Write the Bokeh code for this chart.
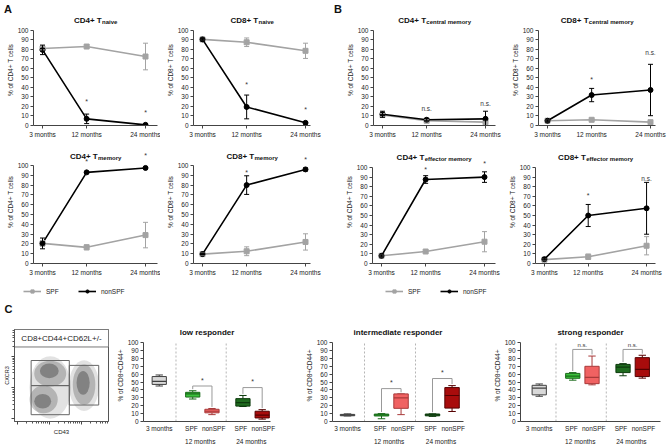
from bokeh.plotting import figure
from bokeh.layouts import column, row
from bokeh.models import (Range1d, FixedTicker, Label, Whisker, TeeHead, ColumnDataSource,
                          Legend, LegendItem, LinearAxis)
from bokeh.embed import file_html
from bokeh.resources import INLINE

FONT = "Liberation Sans"
GRAY = "#a3a3a3"
BLACK = "#000000"
AXIS = "#444444"

# ---------------- data : panels A / B ----------------
months = [3, 12, 24]
month_labels = ["3 months", "12 months", "24 months"]
pct_ticks = [0, 10, 20, 30, 40, 50, 60, 70, 80, 90, 100]
sig_months = [12, 24]
series_names = ["SPF", "nonSPF"]

cd4_naive_spf = [81, 83, 72.5]
cd4_naive_spf_err = [1.5, 2, 14]
cd4_naive_non = [79.5, 7, 0.7]
cd4_naive_non_err = [5, 5, 0.5]
cd4_naive_sig = ["*", "*"]
cd4_naive_sig_y = [25, 14]

cd8_naive_spf = [90.5, 87.5, 78.5]
cd8_naive_spf_err = [1, 4.5, 8]
cd8_naive_non = [90.5, 19.5, 2.8]
cd8_naive_non_err = [1, 12.5, 1]
cd8_naive_sig = ["*", "*"]
cd8_naive_sig_y = [43, 17]

cd4_cm_spf = [11, 5, 3.5]
cd4_cm_spf_err = [1.5, 1, 1]
cd4_cm_non = [11.8, 6, 7]
cd4_cm_non_err = [3.2, 1.5, 8]
cd4_cm_sig = ["n.s.", "n.s."]
cd4_cm_sig_y = [17.5, 23]

cd8_cm_spf = [5, 6, 3.5]
cd8_cm_spf_err = [1, 1.2, 1]
cd8_cm_non = [5, 32, 37.3]
cd8_cm_non_err = [1, 7, 27]
cd8_cm_sig = ["*", "n.s."]
cd8_cm_sig_y = [48, 76.5]

cd4_mem_spf = [20.5, 16.5, 29]
cd4_mem_spf_err = [3, 2.5, 13]
cd4_mem_non = [20.5, 93, 97.5]
cd4_mem_non_err = [5.5, 0.5, 0.5]
cd4_mem_sig = ["*", "*"]
cd4_mem_sig_y = [104.5, 110]

cd8_mem_spf = [9.6, 12.5, 22]
cd8_mem_spf_err = [1, 4.5, 8.3]
cd8_mem_non = [9.6, 80, 96]
cd8_mem_non_err = [0.5, 9.5, 1.5]
cd8_mem_sig = ["*", "*"]
cd8_mem_sig_y = [93, 106]

cd4_em_spf = [8, 12.5, 22.7]
cd4_em_spf_err = [1, 1, 10.5]
cd4_em_non = [8, 87.5, 90]
cd4_em_non_err = [1, 4, 5.5]
cd4_em_sig = ["*", "*"]
cd4_em_sig_y = [98, 104]

cd8_em_spf = [4, 7, 18.5]
cd8_em_spf_err = [1, 2.8, 9.5]
cd8_em_non = [4.5, 50, 57.5]
cd8_em_non_err = [1, 11.5, 27]
cd8_em_sig = ["*", "n.s."]
cd8_em_sig_y = [71, 88.5]

# ---------------- data : panel C ----------------
box_x = [1, 3, 4.15, 6, 7.15]
box_label_x = [1, 2.92, 4.25, 5.88, 7.22]
box_tick_labels = ["3 months", "SPF", "nonSPF", "SPF", "nonSPF"]
box_colors = ["#d9d9d9", "#3cc23c", "#f06262", "#1f6b1f", "#a80c0c"]
box_line_colors = ["#404040", "#1a6a1a", "#a83a3a", "#0c3a0c", "#550000"]
group_x = [3.45, 6.5]
group_labels = ["12 months", "24 months"]
separators = [2.0, 5.0]

low_whi = [59, 39, 16.5, 33, 15]
low_q3 = [57, 37, 15.5, 29, 13]
low_med = [51, 35, 13, 24, 8]
low_q1 = [47, 31, 11, 19.5, 4.5]
low_wlo = [45, 28.5, 8.7, 19, 3]
low_brackets = [45, 43]
low_sig = ["*", "*"]

int_whi = [9.7, 10, 35, 9.7, 45.5]
int_q3 = [9, 9.4, 35, 9.5, 43]
int_med = [8, 8.3, 30, 8.3, 33]
int_q1 = [7.3, 7, 16.7, 7.2, 17]
int_wlo = [7, 3.5, 8.7, 6.5, 12.7]
int_brackets = [41.7, 54.5]
int_sig = ["*", "*"]

str_whi = [47.6, 62, 83, 73.4, 84]
str_q3 = [45.9, 61, 70, 72.4, 81]
str_med = [42.4, 57.6, 56, 69, 66]
str_q1 = [33.8, 54.8, 48, 62, 57]
str_wlo = [32, 52.4, 46.5, 58, 55]
str_brackets = [91.4, 91.4]
str_sig = ["n.s.", "n.s."]

# flow cytometry sketch (stylised density blobs and gates)
blob_x = [38, 74, 38, 31, 74, 37, 30, 73]
blob_y = [37, 39, 52, 24, 40, 55, 22, 42]
blob_w = [44, 32, 34, 30, 24, 20, 18, 14]
blob_h = [68, 55, 28, 30, 44, 16, 16, 26]
blob_alpha = [0.12, 0.12, 0.22, 0.22, 0.22, 0.3, 0.3, 0.3]
gate_left = [17.7, 17.7, 58.3]
gate_right = [58.3, 58.3, 89.6]
gate_bottom = [39, 7.4, 17.9]
gate_top = [66.3, 39, 61]
flow_major = [3, 37, 71]
flow_minor = [13, 19, 23, 26, 29, 31, 33, 35, 47, 53, 57, 60, 63, 65, 67, 69, 81, 87, 91, 94, 97, 99]

# ---------------- layout helpers (page pixels) ----------------
TOTAL_W = 669

BOLD_W = {'C': .722, 'D': .722, '4': .556, '8': .556, '+': .584, ' ': .278, 'T': .611,
          'n': .611, 'a': .556, 'i': .278, 'v': .556, 'e': .556, 'm': .889, 'o': .611,
          'r': .389, 'y': .556, 'c': .556, 't': .333, 'l': .278, 'f': .333}


def tw(s, size):
    return sum(BOLD_W.get(ch, .6) for ch in s) * size


def base_fig(w, h, lb, rb, tb, bb, xr, yr, **kw):
    p = figure(width=w, height=h, x_range=xr, y_range=yr,
               output_backend="svg", toolbar_location=None, tools="", title=None,
               min_border=0, min_border_left=lb, min_border_right=rb, min_border_top=tb,
               min_border_bottom=bb, **kw)
    p.outline_line_color = None
    p.xgrid.visible = False
    p.ygrid.visible = False
    return p


def style_axes(p, lab_size="6.5px"):
    for ax in p.axis:
        ax.axis_line_color = AXIS
        ax.axis_line_width = 1
        ax.major_tick_line_color = AXIS
        ax.major_tick_out = 3
        ax.major_tick_in = 0
        ax.minor_tick_line_color = None
        ax.major_label_text_font = FONT
        ax.major_label_text_font_size = lab_size
        ax.major_label_text_color = "#222222"
        ax.major_label_standoff = 2
        ax.axis_label_text_font = FONT
        ax.axis_label_text_font_size = "6.5px"
        ax.axis_label_text_font_style = "normal"
        ax.axis_label_text_color = "#222222"
        ax.axis_label_standoff = 1


def add_label(p, x, y, text, size, bold=False, align="center", baseline="middle", dx=0, dy=0,
              color="#111111"):
    p.add_layout(Label(x=x, y=y, x_offset=dx, y_offset=dy, text=text, text_font=FONT,
                       text_font_size=f"{size}px", text_font_style="bold" if bold else "normal",
                       text_align=align, text_baseline=baseline, text_color=color))


def add_title(p, xc, main, sub, dy):
    wm = tw(main, 8)
    ws = tw(sub, 6)
    split = (wm - ws) / 2
    add_label(p, xc, 100, main, 8, True, "right", "alphabetic", dx=split, dy=dy)
    add_label(p, xc, 100, sub, 6, True, "left", "alphabetic", dx=split + 0.3, dy=dy - 2)


PX_PER_MONTH = 103 / 21


def line_panel(fx0, fx1, ax0, ax1, row_top, row_h, y100, y0, ylabel, main, sub,
               spf, spf_err, non, non_err, sig, sig_y, title_dy):
    x0 = 3 - 9 / PX_PER_MONTH
    x1 = 3 + (ax1 - ax0 - 9) / PX_PER_MONTH
    y_end = 100 * (y0 - row_top) / (y0 - y100)
    p = base_fig(fx1 - fx0, row_h, ax0 - fx0, fx1 - ax1, 0, row_top + row_h - y0,
                 Range1d(x0, x1), Range1d(0, y_end))
    p.xaxis.ticker = FixedTicker(ticks=months)
    p.xaxis.major_label_overrides = dict(zip(months, month_labels))
    p.yaxis.ticker = FixedTicker(ticks=pct_ticks)
    p.yaxis.bounds = (0, 100)
    p.yaxis.axis_label = ylabel
    style_axes(p)

    for vals, errs, color, marker in [(spf, spf_err, GRAY, "square"),
                                      (non, non_err, BLACK, "circle")]:
        src = ColumnDataSource(dict(x=months, lo=[v - e for v, e in zip(vals, errs)],
                                    hi=[v + e for v, e in zip(vals, errs)]))
        p.add_layout(Whisker(source=src, base="x", lower="lo", upper="hi", line_color=color,
                             line_width=1, level="glyph",
                             upper_head=TeeHead(size=5, line_color=color, line_width=1),
                             lower_head=TeeHead(size=5, line_color=color, line_width=1)))
        p.line(months, vals, line_color=color, line_width=1.6)
        p.scatter(months, vals, marker=marker, size=5, fill_color=color, line_color=color)

    for m, t, yv in zip(sig_months, sig, sig_y):
        add_label(p, m, yv, t, 7 if t == "*" else 6.5, color="#333333")

    add_title(p, (x0 + x1) / 2, main, sub, title_dy)
    return p


ROW3_TOP = 314
ROW3_H = 133


def box_panel(fx0, fx1, ax0, ax1, px_before, px_after, title, whi, q3, med, q1, wlo,
              brackets, sig):
    row_top, row_h, y100, y0 = ROW3_TOP, ROW3_H, 330, 426
    px_unit = 17.0
    x0 = 1 - px_before / px_unit
    x1 = 1 + px_after / px_unit
    y_end = 100 * (y0 - row_top) / (y0 - y100)
    p = base_fig(fx1 - fx0, row_h, ax0 - fx0, fx1 - ax1, 0, row_top + row_h - y0,
                 Range1d(x0, x1), Range1d(0, y_end))
    p.xaxis.ticker = FixedTicker(ticks=box_label_x)
    p.xaxis.major_label_overrides = dict(zip(box_label_x, box_tick_labels))
    p.yaxis.ticker = FixedTicker(ticks=pct_ticks)
    p.yaxis.bounds = (0, 100)
    p.yaxis.axis_label = "% of CD8+CD44+"
    style_axes(p, lab_size="6.5px")
    p.xaxis.major_tick_out = 0
    p.xaxis.major_label_standoff = 3

    gax = LinearAxis(ticker=FixedTicker(ticks=group_x),
                     major_label_overrides=dict(zip(group_x, group_labels)),
                     axis_line_color=None, major_tick_line_color=None, minor_tick_line_color=None,
                     major_tick_out=0, major_tick_in=0, major_label_standoff=3,
                     major_label_text_font=FONT, major_label_text_font_size="6.5px",
                     major_label_text_color="#222222")
    p.add_layout(gax, "below")

    p.segment(x0=separators, y0=[0] * len(separators), x1=separators,
              y1=[100] * len(separators), line_color="#b5b5b5", line_dash="2 2", line_width=1)

    hw = 0.425
    cw = 0.22
    p.segment(x0=box_x, y0=q3, x1=box_x, y1=whi, line_color=box_line_colors, line_width=1)
    p.segment(x0=box_x, y0=q1, x1=box_x, y1=wlo, line_color=box_line_colors, line_width=1)
    p.segment(x0=[x - cw for x in box_x], y0=whi, x1=[x + cw for x in box_x], y1=whi,
              line_color=box_line_colors, line_width=1)
    p.segment(x0=[x - cw for x in box_x], y0=wlo, x1=[x + cw for x in box_x], y1=wlo,
              line_color=box_line_colors, line_width=1)
    p.vbar(x=box_x, width=2 * hw, top=q3, bottom=q1, fill_color=box_colors,
           line_color=box_line_colors, line_width=1)
    p.segment(x0=[x - hw for x in box_x], y0=med, x1=[x + hw for x in box_x], y1=med,
              line_color=box_line_colors, line_width=1.2)

    for (a, b), h, t in zip([(1, 2), (3, 4)], brackets, sig):
        p.line([box_x[a], box_x[a], box_x[b], box_x[b]],
               [whi[a] + 2, h, h, whi[b] + 2], line_color="#999999", line_width=1)
        add_label(p, (box_x[a] + box_x[b]) / 2, h, t, 7 if t == "*" else 6,
                  dy=6 if t == "*" else 4.5, color="#333333")

    add_label(p, (x0 + x1) / 2, 100, title, 8, True, "center", "alphabetic", dy=10)
    return p


def strip(width, height):
    return base_fig(width, height, 0, 0, 0, 0, Range1d(0, width), Range1d(0, height),
                    x_axis_type=None, y_axis_type=None)


def key_strip(width, height, margin, spf_vals, non_vals):
    s = strip(width, height)
    l1 = s.line(months, spf_vals, line_color=GRAY, line_width=1.6, visible=False)
    s1 = s.scatter(months, spf_vals, marker="square", size=5, fill_color=GRAY,
                   line_color=GRAY, visible=False)
    l2 = s.line(months, non_vals, line_color=BLACK, line_width=1.6, visible=False)
    s2 = s.scatter(months, non_vals, marker="circle", size=5, fill_color=BLACK,
                   line_color=BLACK, visible=False)
    s.add_layout(Legend(
        items=[LegendItem(label=series_names[0], renderers=[l1, s1]),
               LegendItem(label=series_names[1], renderers=[l2, s2])],
        location="left", orientation="horizontal", background_fill_alpha=0,
        border_line_color=None, inactive_fill_alpha=0, label_text_font=FONT,
        label_text_font_size="6.5px", label_text_color="#222222", glyph_width=18,
        glyph_height=8, label_height=8, label_standoff=5, spacing=12, padding=2,
        margin=margin))
    return s


# ---------------- strip with panel letters A / B ----------------
strip1 = strip(TOTAL_W, 14)
add_label(strip1, 7.5, 0, "A", 11, True, "center", "bottom")
add_label(strip1, 337.5, 0, "B", 11, True, "center", "bottom")

# ---------------- row 1 ----------------
R1 = dict(row_top=14, row_h=126, y100=30, y0=126)
p1 = line_panel(0, 160, 33, 157, ylabel="% of CD4+ T cells", main="CD4+ T", sub="naive",
                spf=cd4_naive_spf, spf_err=cd4_naive_spf_err, non=cd4_naive_non,
                non_err=cd4_naive_non_err, sig=cd4_naive_sig, sig_y=cd4_naive_sig_y,
                title_dy=10, **R1)
p2 = line_panel(160, 330, 193, 310, ylabel="% of CD8+ T cells", main="CD8+ T", sub="naive",
                spf=cd8_naive_spf, spf_err=cd8_naive_spf_err, non=cd8_naive_non,
                non_err=cd8_naive_non_err, sig=cd8_naive_sig, sig_y=cd8_naive_sig_y,
                title_dy=10, **R1)
p3 = line_panel(330, 505, 373, 495, ylabel="% of CD4+ T cells", main="CD4+ T",
                sub="central memory", spf=cd4_cm_spf, spf_err=cd4_cm_spf_err, non=cd4_cm_non,
                non_err=cd4_cm_non_err, sig=cd4_cm_sig, sig_y=cd4_cm_sig_y, title_dy=10,
                **R1)
p4 = line_panel(505, 669, 538, 655, ylabel="% of CD8+ T cells", main="CD8+ T",
                sub="central memory", spf=cd8_cm_spf, spf_err=cd8_cm_spf_err, non=cd8_cm_non,
                non_err=cd8_cm_non_err, sig=cd8_cm_sig, sig_y=cd8_cm_sig_y, title_dy=10,
                **R1)

# ---------------- row 2 ----------------
R2a = dict(row_top=140, row_h=142, y100=165, y0=263)
R2b = dict(row_top=140, row_h=142, y100=167, y0=263)
q1 = line_panel(0, 160, 33, 157, ylabel="% of CD4+ T cells", main="CD4+ T", sub="memory",
                spf=cd4_mem_spf, spf_err=cd4_mem_spf_err, non=cd4_mem_non,
                non_err=cd4_mem_non_err, sig=cd4_mem_sig, sig_y=cd4_mem_sig_y,
                title_dy=9.3, **R2a)
q2 = line_panel(160, 330, 193, 310, ylabel="% of CD8+ T cells", main="CD8+ T", sub="memory",
                spf=cd8_mem_spf, spf_err=cd8_mem_spf_err, non=cd8_mem_non,
                non_err=cd8_mem_non_err, sig=cd8_mem_sig, sig_y=cd8_mem_sig_y,
                title_dy=9.3, **R2a)
q3 = line_panel(330, 505, 372, 495, ylabel="% of CD4+ T cells", main="CD4+ T",
                sub="effector memory", spf=cd4_em_spf, spf_err=cd4_em_spf_err, non=cd4_em_non,
                non_err=cd4_em_non_err, sig=cd4_em_sig, sig_y=cd4_em_sig_y, title_dy=10.3,
                **R2b)
q4 = line_panel(505, 669, 534, 655, ylabel="% of CD8+ T cells", main="CD8+ T",
                sub="effector memory", spf=cd8_em_spf, spf_err=cd8_em_spf_err, non=cd8_em_non,
                non_err=cd8_em_non_err, sig=cd8_em_sig, sig_y=cd8_em_sig_y, title_dy=10.3,
                **R2b)

# ---------------- series keys under row 2 ----------------
keyL = key_strip(330, 18, 23, cd4_mem_spf, cd4_mem_non)
keyR = key_strip(339, 18, 55, cd4_em_spf, cd4_em_non)

# ---------------- strip with panel letter C ----------------
strip3 = strip(TOTAL_W, ROW3_TOP - 300)
add_label(strip3, 8, 0, "C", 11, True, "center", "bottom")

# ---------------- row 3 ----------------
flow = base_fig(113, ROW3_H, 12, 5, 329 - ROW3_TOP, ROW3_TOP + ROW3_H - 424,
                Range1d(0, 100), Range1d(0, 100))
flow.outline_line_color = "#555555"
for ax in flow.axis:
    ax.ticker = FixedTicker(ticks=flow_major, minor_ticks=flow_minor)
    ax.major_label_overrides = {t: "" for t in flow_major}
    ax.major_label_text_font_size = "1px"
    ax.major_label_standoff = 0
    ax.axis_line_color = "#555555"
    ax.major_tick_line_color = "#444444"
    ax.major_tick_out = 3
    ax.major_tick_in = 0
    ax.minor_tick_line_color = "#555555"
    ax.minor_tick_out = 2
    ax.minor_tick_in = 0
    ax.axis_label_text_font = FONT
    ax.axis_label_text_font_style = "normal"
    ax.axis_label_text_color = "#222222"
flow.xaxis.axis_label = "CD43"
flow.xaxis.axis_label_text_font_size = "6px"
flow.xaxis.axis_label_standoff = 4
flow.yaxis.axis_label = "CXCR3"
flow.yaxis.axis_label_text_font_size = "5.5px"
flow.yaxis.axis_label_standoff = 2
flow.ellipse(x=blob_x, y=blob_y, width=blob_w, height=blob_h, fill_color="#111111",
             fill_alpha=blob_alpha, line_color=None)
flow.quad(left=gate_left, right=gate_right, bottom=gate_bottom, top=gate_top,
          fill_color=None, line_color="#666666", line_width=1)
flow.quad(left=[0], right=[100], bottom=[81], top=[100], fill_color="white",
          line_color="#777777", line_width=1)
add_label(flow, 50, 90.5, "CD8+CD44+CD62L+/-", 8, color="#222222")

low = box_panel(113, 300, 141, 270, 16, 113, "low responder",
                low_whi, low_q3, low_med, low_q1, low_wlo, low_brackets, low_sig)
inter = box_panel(300, 490, 332, 463, 15, 116, "intermediate responder",
                  int_whi, int_q3, int_med, int_q1, int_wlo, int_brackets, int_sig)
strong = box_panel(490, 669, 518, 660, 19, 123, "strong responder",
                   str_whi, str_q3, str_med, str_q1, str_wlo, str_brackets, str_sig)

layout = column(strip1, row(p1, p2, p3, p4), row(q1, q2, q3, q4), row(keyL, keyR), strip3,
                row(flow, low, inter, strong))

open("out.html", "w").write(file_html(layout, INLINE))
